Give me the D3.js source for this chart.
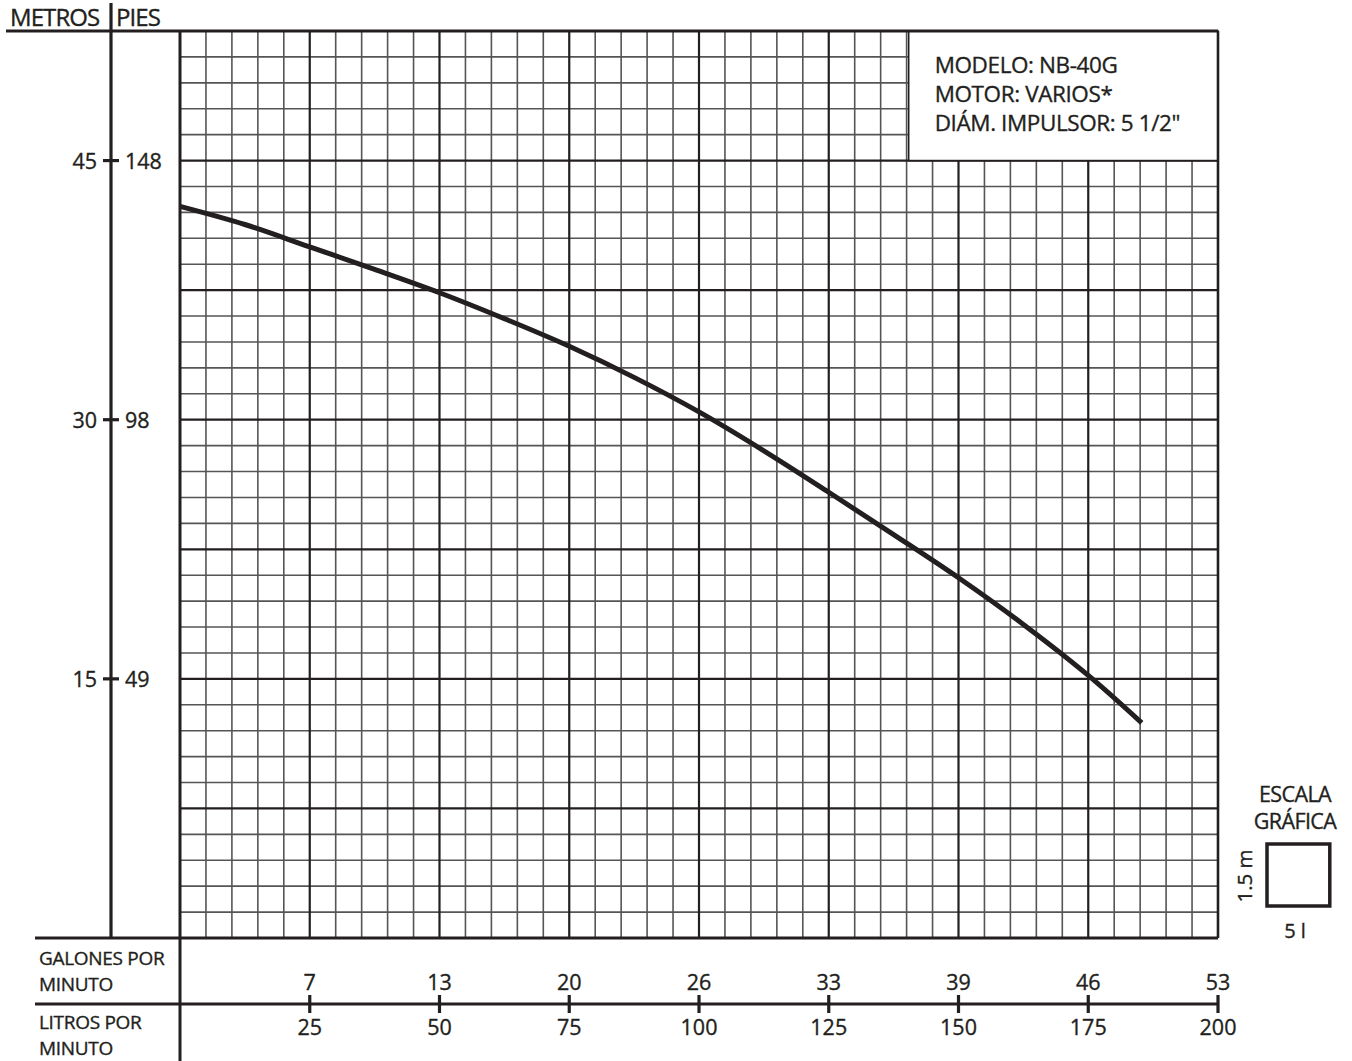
<!DOCTYPE html>
<html>
<head>
<meta charset="utf-8">
<script src="https://cdn.jsdelivr.net/npm/d3@7"></script>
<style>
  body { margin: 0; background: #fff; }
  text { font-family: "Open Sans", "Noto Sans", sans-serif; fill: #231f20; stroke: #231f20; stroke-width: 0.35px; }
</style>
</head>
<body>
<div id="chart"></div>
<script>
const WIDTH = 1352;
const HEIGHT = 1061;
const LEFT = 180;
const RIGHT = 1218;
const TOP = 31;
const BOTTOM = 938;
const INK = '#231f20';

// flow in litros por minuto, head in metros
const flowLpm = [0, 12.5, 25, 37.5, 50, 62.5, 75, 87.5, 100, 112.5, 125, 137.5, 150, 162.5, 175, 185.3];
const headM = [42.35, 41.3, 40.0, 38.7, 37.35, 35.85, 34.25, 32.45, 30.45, 28.2, 25.8, 23.35, 20.85, 18.15, 15.2, 12.45];

const lpmTicks = [25, 50, 75, 100, 125, 150, 175, 200];
const gpmLabels = ['7', '13', '20', '26', '33', '39', '46', '53'];
const meterTicks = [15, 30, 45];
const feetLabels = ['49', '98', '148'];
const infoLines = ['MODELO: NB-40G', 'MOTOR: VARIOS*', 'DIÁM. IMPULSOR: 5 1/2"'];

let svg;

const x = d3.scaleLinear().domain([0, 200]).range([LEFT, RIGHT]);
const y = d3.scaleLinear().domain([0, 52.5]).range([BOTTOM, TOP]);

function buildGrid() {
  let g = svg.append('g').attr('class', 'gridGroup');

  let minorX = d3.range(5, 200, 5).filter((v) => v % 25 !== 0);
  let minorY = d3.range(1.5, 52.5, 1.5).filter((v) => Math.abs(v / 7.5 - Math.round(v / 7.5)) > 1e-6);
  let majorX = d3.range(25, 200, 25);
  let majorY = d3.range(7.5, 52.5, 7.5);

  g.selectAll('line.minorX')
    .data(minorX)
    .enter()
    .append('line')
    .attr('x1', (d) => x(d)).attr('x2', (d) => x(d))
    .attr('y1', TOP).attr('y2', BOTTOM)
    .attr('stroke', '#555').attr('stroke-width', 1.6);

  g.selectAll('line.minorY')
    .data(minorY)
    .enter()
    .append('line')
    .attr('y1', (d) => y(d)).attr('y2', (d) => y(d))
    .attr('x1', LEFT).attr('x2', RIGHT)
    .attr('stroke', '#555').attr('stroke-width', 1.6);

  g.selectAll('line.majorX')
    .data(majorX)
    .enter()
    .append('line')
    .attr('x1', (d) => x(d)).attr('x2', (d) => x(d))
    .attr('y1', TOP).attr('y2', BOTTOM)
    .attr('stroke', INK).attr('stroke-width', 2.2);

  g.selectAll('line.majorY')
    .data(majorY)
    .enter()
    .append('line')
    .attr('y1', (d) => y(d)).attr('y2', (d) => y(d))
    .attr('x1', LEFT).attr('x2', RIGHT)
    .attr('stroke', INK).attr('stroke-width', 2.2);
}

function buildInfoBox() {
  let g = svg.append('g').attr('class', 'infoGroup');
  let bx = x(140.4);
  g.append('rect')
    .attr('x', bx).attr('y', TOP)
    .attr('width', RIGHT - bx).attr('height', y(45) - TOP)
    .attr('fill', '#fff').attr('stroke', INK).attr('stroke-width', 1.6);

  g.selectAll('text')
    .data(infoLines)
    .enter()
    .append('text')
    .attr('x', bx + 26)
    .attr('y', (d, i) => 73 + i * 29)
    .attr('font-size', 22.5)
    .attr('letter-spacing', -0.4)
    .text((d) => d);
}

function buildFrame() {
  let g = svg.append('g').attr('class', 'axisGroup');
  let lines = [
    { x1: 6, y1: TOP, x2: RIGHT, y2: TOP, w: 3 },
    { x1: RIGHT, y1: TOP, x2: RIGHT, y2: BOTTOM, w: 2.6 },
    { x1: LEFT, y1: TOP, x2: LEFT, y2: HEIGHT, w: 3 },
    { x1: 35, y1: BOTTOM, x2: RIGHT, y2: BOTTOM, w: 3 },
    { x1: 35, y1: 1004, x2: RIGHT, y2: 1004, w: 3 },
    { x1: 111, y1: 3, x2: 111, y2: BOTTOM, w: 3.2 },
  ];
  g.selectAll('line')
    .data(lines)
    .enter()
    .append('line')
    .attr('x1', (d) => d.x1).attr('y1', (d) => d.y1)
    .attr('x2', (d) => d.x2).attr('y2', (d) => d.y2)
    .attr('stroke', INK).attr('stroke-width', (d) => d.w);

  // left scale: metros | pies
  g.append('text').attr('x', 10).attr('y', 26).attr('font-size', 24).attr('letter-spacing', -0.9).text('METROS');
  g.append('text').attr('x', 116).attr('y', 26).attr('font-size', 24).attr('letter-spacing', -0.9).text('PIES');

  let ticks = g.selectAll('g.mtick')
    .data(meterTicks)
    .enter()
    .append('g')
    .attr('transform', (d) => `translate(111,${y(d)})`);
  ticks.append('line').attr('x1', -8).attr('x2', 8).attr('stroke', INK).attr('stroke-width', 3.2);
  ticks.append('text').attr('x', -14).attr('y', 8).attr('text-anchor', 'end').attr('font-size', 21.5).text((d) => d);
  ticks.append('text').attr('x', 14).attr('y', 8).attr('font-size', 21.5).text((d, i) => feetLabels[i]);

  // bottom scales
  let labelRows = [
    { t: 'GALONES POR', y: 965 }, { t: 'MINUTO', y: 991 },
    { t: 'LITROS POR', y: 1029 }, { t: 'MINUTO', y: 1055 },
  ];
  g.selectAll('text.rowLabel')
    .data(labelRows)
    .enter()
    .append('text')
    .attr('class', 'rowLabel')
    .attr('x', 39).attr('y', (d) => d.y)
    .attr('font-size', 19).attr('letter-spacing', -0.3)
    .text((d) => d.t);

  let bt = g.selectAll('g.ltick')
    .data(lpmTicks)
    .enter()
    .append('g')
    .attr('transform', (d) => `translate(${x(d)},1004)`);
  bt.append('line').attr('y1', -9).attr('y2', 9).attr('stroke', INK).attr('stroke-width', 3.2);
  bt.append('text').attr('y', -14).attr('text-anchor', 'middle').attr('font-size', 21.5).text((d, i) => gpmLabels[i]);
  bt.append('text').attr('y', 31).attr('text-anchor', 'middle').attr('font-size', 21.5).text((d) => d);
}

function buildCurve() {
  let line = d3.line()
    .x((d) => x(d[0]))
    .y((d) => y(d[1]))
    .curve(d3.curveCatmullRom.alpha(0.5));
  svg.append('path')
    .datum(d3.zip(flowLpm, headM))
    .attr('d', line)
    .attr('fill', 'none')
    .attr('stroke', INK)
    .attr('stroke-width', 5);
}

function buildScaleKey() {
  let g = svg.append('g').attr('class', 'metaGroup');
  let cell = x(5) - x(0);
  let kx = 1267, ky = 844;
  g.append('rect')
    .attr('x', kx).attr('y', ky)
    .attr('width', cell * 2.42).attr('height', 62)
    .attr('fill', 'none').attr('stroke', INK).attr('stroke-width', 3.5);
  g.append('text').attr('x', 1295).attr('y', 802).attr('text-anchor', 'middle').attr('font-size', 21.5).attr('letter-spacing', -0.6).text('ESCALA');
  g.append('text').attr('x', 1295).attr('y', 829).attr('text-anchor', 'middle').attr('font-size', 21.5).attr('letter-spacing', -0.6).text('GRÁFICA');
  g.append('text').attr('x', 1295).attr('y', 938).attr('text-anchor', 'middle').attr('font-size', 20).text('5 l');
  g.append('text')
    .attr('transform', 'translate(1252,876) rotate(-90)')
    .attr('text-anchor', 'middle').attr('font-size', 20.5)
    .text('1.5 m');
}

function buildChart(selector) {
  svg = d3.select(selector).append('svg')
    .attr('width', WIDTH)
    .attr('height', HEIGHT);
  buildGrid();
  buildCurve();
  buildInfoBox();
  buildFrame();
  buildScaleKey();
}

buildChart('#chart');
</script>
</body>
</html>
